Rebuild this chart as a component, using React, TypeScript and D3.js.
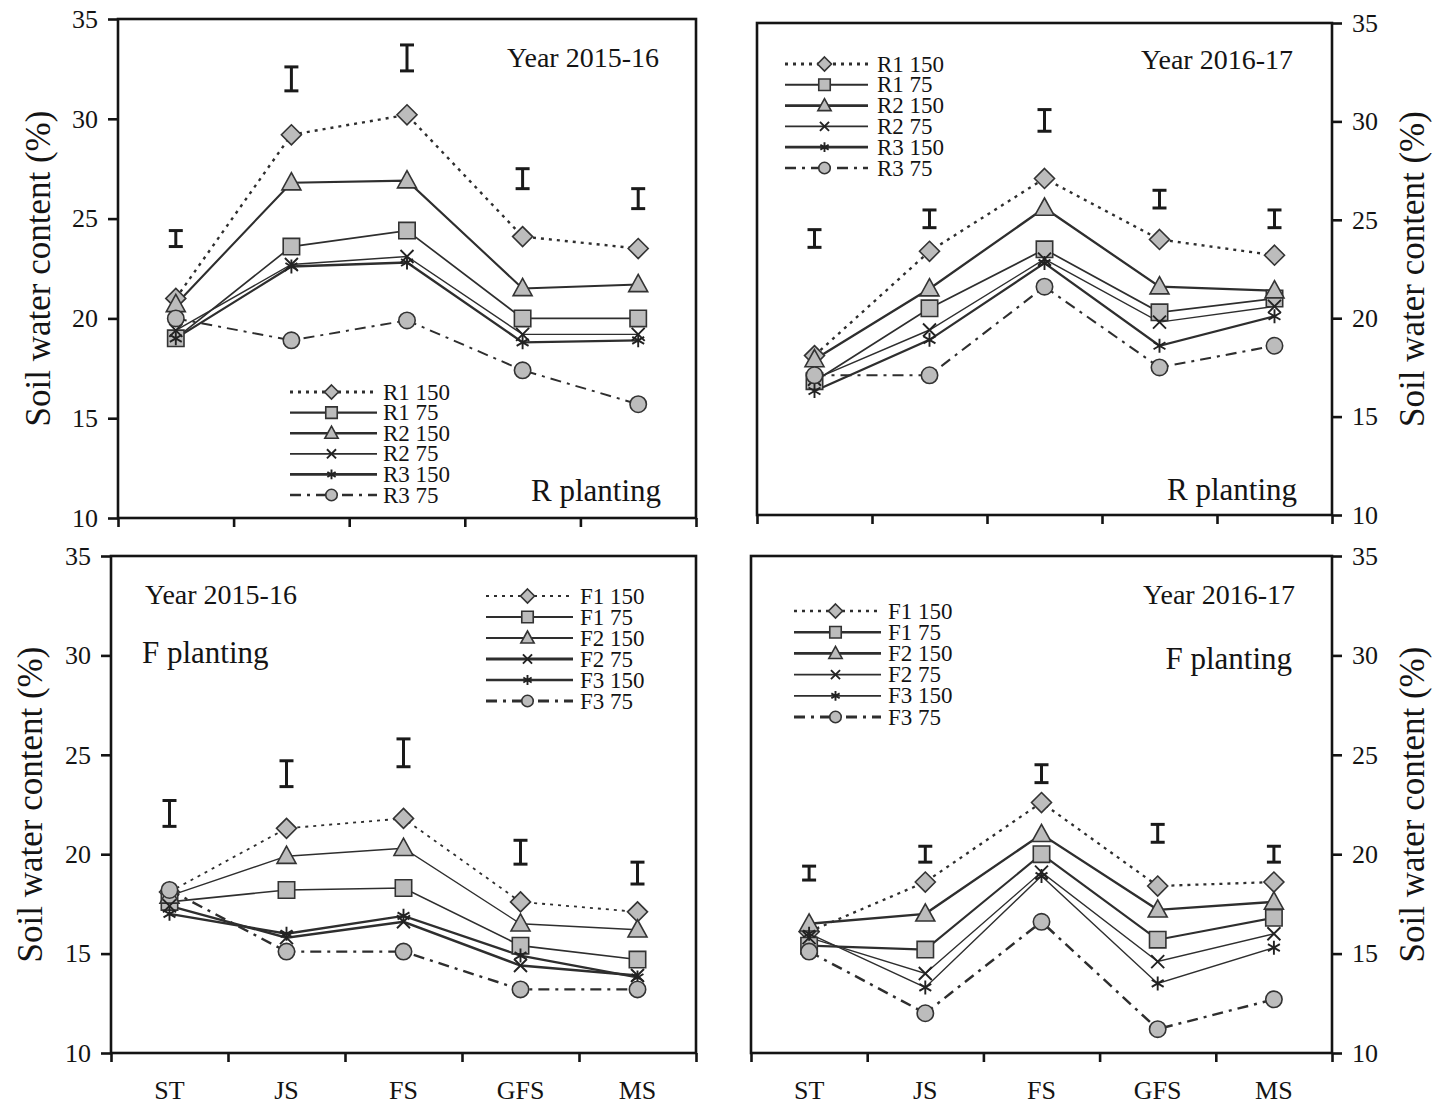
import React, { useEffect, useRef } from 'react';
import * as d3 from 'd3';

// growth stages on the x axis
const stages = ['ST', 'JS', 'FS', 'GFS', 'MS'];
const yTicks = [10, 15, 20, 25, 30, 35];

const rLabels = ['R1 150', 'R1 75', 'R2 150', 'R2 75', 'R3 150', 'R3 75'];
const fLabels = ['F1 150', 'F1 75', 'F2 150', 'F2 75', 'F3 150', 'F3 75'];
const shapes = ['diamond', 'square', 'triangle', 'x', 'asterisk', 'circle'];

// soil water content (%), one row per treatment, in stage order
const rValues1516 = [
  [21.0, 29.2, 30.2, 24.1, 23.5],
  [19.0, 23.6, 24.4, 20.0, 20.0],
  [20.7, 26.8, 26.9, 21.5, 21.7],
  [19.4, 22.7, 23.1, 19.2, 19.2],
  [19.0, 22.6, 22.8, 18.8, 18.9],
  [20.0, 18.9, 19.9, 17.4, 15.7],
];
const rValues1617 = [
  [18.1, 23.4, 27.1, 24.0, 23.2],
  [16.8, 20.5, 23.5, 20.3, 21.0],
  [17.9, 21.5, 25.6, 21.6, 21.4],
  [16.9, 19.4, 23.0, 19.8, 20.6],
  [16.3, 18.9, 22.8, 18.6, 20.1],
  [17.1, 17.1, 21.6, 17.5, 18.6],
];
const fValues1516 = [
  [18.1, 21.3, 21.8, 17.6, 17.1],
  [17.6, 18.2, 18.3, 15.4, 14.7],
  [17.9, 19.9, 20.3, 16.5, 16.2],
  [17.4, 15.8, 16.6, 14.4, 13.9],
  [17.0, 16.0, 16.9, 14.9, 13.8],
  [18.2, 15.1, 15.1, 13.2, 13.2],
];
const fValues1617 = [
  [16.1, 18.6, 22.6, 18.4, 18.6],
  [15.4, 15.2, 20.0, 15.7, 16.8],
  [16.5, 17.0, 21.0, 17.2, 17.6],
  [15.8, 14.0, 19.1, 14.6, 16.0],
  [16.0, 13.3, 18.9, 13.5, 15.3],
  [15.1, 12.0, 16.6, 11.2, 12.7],
];

// error bars: top and bottom per stage
const rErrTop1516 = [24.4, 32.6, 33.7, 27.5, 26.5];
const rErrBot1516 = [23.6, 31.4, 32.4, 26.5, 25.5];
const rErrTop1617 = [24.5, 25.5, 30.6, 26.5, 25.5];
const rErrBot1617 = [23.6, 24.6, 29.5, 25.6, 24.6];
const fErrTop1516 = [22.7, 24.7, 25.8, 20.7, 19.6];
const fErrBot1516 = [21.4, 23.4, 24.4, 19.5, 18.5];
const fErrTop1617 = [19.4, 20.4, 24.5, 21.5, 20.4];
const fErrBot1617 = [18.7, 19.6, 23.6, 20.6, 19.6];

const SERIF = "'Liberation Serif', 'Times New Roman', serif";
const INK = '#141414';

type Style = { width: number; dash: string | null };
type Panel = {
  left: number; right: number; top: number; bottom: number;
  side: 'left' | 'right';
  values: number[][]; labels: string[];
  errTop: number[]; errBot: number[];
  styles: Style[];
  legend: { x0: number; x1: number; tx: number; y0: number; dy: number };
  notes: { text: string; x: number; y: number; anchor: string; size: number }[];
  titleX: number;
  showX: boolean;
};

const dotted = '3,5';
const dashDot = '11,6,3,6';

const panels: Panel[] = [
  {
    left: 118, right: 696, top: 19, bottom: 518, side: 'left',
    values: rValues1516, labels: rLabels, errTop: rErrTop1516, errBot: rErrBot1516,
    styles: [
      { width: 2.4, dash: dotted }, { width: 1.7, dash: null }, { width: 2.1, dash: null },
      { width: 1.4, dash: null }, { width: 2.3, dash: null }, { width: 1.9, dash: dashDot },
    ],
    legend: { x0: 290, x1: 377, tx: 383, y0: 392, dy: 20.6 },
    notes: [
      { text: 'Year 2015-16', x: 659, y: 57, anchor: 'end', size: 28 },
      { text: 'R planting', x: 661, y: 490, anchor: 'end', size: 31 },
    ],
    titleX: 38, showX: false,
  },
  {
    left: 757, right: 1332, top: 23, bottom: 515, side: 'right',
    values: rValues1617, labels: rLabels, errTop: rErrTop1617, errBot: rErrBot1617,
    styles: [
      { width: 2.4, dash: dotted }, { width: 1.7, dash: null }, { width: 2.3, dash: null },
      { width: 1.4, dash: null }, { width: 2.3, dash: null }, { width: 2.1, dash: dashDot },
    ],
    legend: { x0: 785, x1: 868, tx: 877, y0: 64, dy: 20.8 },
    notes: [
      { text: 'Year 2016-17', x: 1293, y: 59, anchor: 'end', size: 28 },
      { text: 'R planting', x: 1297, y: 489, anchor: 'end', size: 31 },
    ],
    titleX: 1412, showX: false,
  },
  {
    left: 111, right: 696, top: 556, bottom: 1053, side: 'left',
    values: fValues1516, labels: fLabels, errTop: fErrTop1516, errBot: fErrBot1516,
    styles: [
      { width: 1.8, dash: dotted }, { width: 1.6, dash: null }, { width: 1.4, dash: null },
      { width: 2.4, dash: null }, { width: 2.3, dash: null }, { width: 2.4, dash: dashDot },
    ],
    legend: { x0: 486, x1: 573, tx: 580, y0: 596, dy: 21 },
    notes: [
      { text: 'Year 2015-16', x: 145, y: 594, anchor: 'start', size: 28 },
      { text: 'F planting', x: 142, y: 652, anchor: 'start', size: 31 },
    ],
    titleX: 30, showX: true,
  },
  {
    left: 751, right: 1332, top: 556, bottom: 1053, side: 'right',
    values: fValues1617, labels: fLabels, errTop: fErrTop1617, errBot: fErrBot1617,
    styles: [
      { width: 2.3, dash: dotted }, { width: 2.1, dash: null }, { width: 2.4, dash: null },
      { width: 1.4, dash: null }, { width: 1.4, dash: null }, { width: 2.5, dash: dashDot },
    ],
    legend: { x0: 794, x1: 881, tx: 888, y0: 611, dy: 21.2 },
    notes: [
      { text: 'Year 2016-17', x: 1295, y: 594, anchor: 'end', size: 28 },
      { text: 'F planting', x: 1292, y: 658, anchor: 'end', size: 31 },
    ],
    titleX: 1412, showX: true,
  },
];

function markerPath(shape: string, r: number) {
  const p = d3.path();
  if (shape === 'diamond') {
    p.moveTo(0, -r); p.lineTo(r, 0); p.lineTo(0, r); p.lineTo(-r, 0); p.closePath();
  } else if (shape === 'square') {
    const h = r * 0.82;
    p.rect(-h, -h, 2 * h, 2 * h);
  } else if (shape === 'triangle') {
    p.moveTo(0, -r); p.lineTo(r * 0.95, r * 0.72); p.lineTo(-r * 0.95, r * 0.72); p.closePath();
  } else if (shape === 'circle') {
    p.arc(0, 0, r * 0.82, 0, 2 * Math.PI);
  } else if (shape === 'x') {
    const h = r * 0.65;
    p.moveTo(-h, -h); p.lineTo(h, h); p.moveTo(h, -h); p.lineTo(-h, h);
  } else {
    const h = r * 0.7;
    p.moveTo(0, -h); p.lineTo(0, h);
    p.moveTo(-h * 0.85, -h * 0.5); p.lineTo(h * 0.85, h * 0.5);
    p.moveTo(h * 0.85, -h * 0.5); p.lineTo(-h * 0.85, h * 0.5);
  }
  return p.toString();
}

function drawMarker(g: any, shape: string, cx: number, cy: number, r: number) {
  const open = shape === 'x' || shape === 'asterisk';
  g.append('path')
    .attr('d', markerPath(shape, r))
    .attr('transform', `translate(${cx},${cy})`)
    .attr('fill', open ? 'none' : '#bcbcbc')
    .attr('stroke', open ? '#222' : '#333')
    .attr('stroke-width', open ? 1.9 : 1.6);
}

function drawPanel(svg: any, p: Panel) {
  const x = d3.scaleBand().domain(stages).range([p.left, p.right]);
  const xEdge = d3.scaleLinear().domain([0, stages.length]).range([p.left, p.right]);
  const y = d3.scaleLinear().domain([10, 35]).range([p.bottom, p.top]);
  const cx = (s: string) => (x(s) as number) + x.bandwidth() / 2;
  const g = svg.append('g');

  // frame
  g.append('rect')
    .attr('x', p.left).attr('y', p.top)
    .attr('width', p.right - p.left).attr('height', p.bottom - p.top)
    .attr('fill', 'none').attr('stroke', INK).attr('stroke-width', 2.6);

  // y axis
  const yAxis = (p.side === 'left' ? d3.axisLeft(y) : d3.axisRight(y))
    .tickValues(yTicks).tickSize(10).tickPadding(10).tickSizeOuter(0);
  const ya = g.append('g')
    .attr('transform', `translate(${p.side === 'left' ? p.left : p.right},0)`)
    .call(yAxis);
  ya.select('.domain').remove();
  ya.selectAll('line').attr('stroke', INK).attr('stroke-width', 2.6);
  ya.selectAll('text').attr('font-family', SERIF).attr('font-size', 26).attr('fill', INK);

  // x axis: ticks on the stage boundaries
  const xa = g.append('g')
    .attr('transform', `translate(0,${p.bottom})`)
    .call(d3.axisBottom(xEdge).tickValues(d3.range(stages.length + 1)).tickSize(9).tickFormat(() => '').tickSizeOuter(0));
  xa.select('.domain').remove();
  xa.selectAll('line').attr('stroke', INK).attr('stroke-width', 2.6);

  if (p.showX) {
    g.selectAll('.xlab').data(stages).enter().append('text')
      .attr('x', (d: string) => cx(d)).attr('y', 1099)
      .attr('text-anchor', 'middle')
      .attr('font-family', SERIF).attr('font-size', 26).attr('fill', INK)
      .text((d: string) => d);
  }

  // axis title
  g.append('text')
    .attr('transform', `translate(${p.titleX},${(p.top + p.bottom) / 2}) rotate(-90)`)
    .attr('text-anchor', 'middle').attr('dominant-baseline', 'central')
    .attr('font-family', SERIF).attr('font-size', 35).attr('fill', INK)
    .text('Soil water content (%)');

  // error bars
  stages.forEach((s, i) => {
    const xc = cx(s);
    const t = y(p.errTop[i]);
    const b = y(p.errBot[i]);
    const eb = g.append('g').attr('stroke', '#1a1a1a').attr('stroke-width', 3);
    eb.append('line').attr('x1', xc).attr('x2', xc).attr('y1', t).attr('y2', b);
    eb.append('line').attr('x1', xc - 7).attr('x2', xc + 7).attr('y1', t).attr('y2', t);
    eb.append('line').attr('x1', xc - 7).attr('x2', xc + 7).attr('y1', b).attr('y2', b);
  });

  // series lines
  const line = d3.line<number>().x((_, i) => cx(stages[i])).y(d => y(d));
  p.values.forEach((vals, k) => {
    const st = p.styles[k];
    g.append('path')
      .attr('d', line(vals))
      .attr('fill', 'none').attr('stroke', '#2e2e2e')
      .attr('stroke-width', st.width)
      .attr('stroke-dasharray', st.dash);
  });
  // markers on top
  p.values.forEach((vals, k) => {
    vals.forEach((v, i) => drawMarker(g, shapes[k], cx(stages[i]), y(v), 10));
  });

  // legend
  const L = p.legend;
  p.labels.forEach((lab, k) => {
    const ly = L.y0 + k * L.dy;
    const st = p.styles[k];
    g.append('line')
      .attr('x1', L.x0).attr('x2', L.x1).attr('y1', ly).attr('y2', ly)
      .attr('stroke', '#2e2e2e').attr('stroke-width', st.width + 0.4)
      .attr('stroke-dasharray', st.dash);
    drawMarker(g, shapes[k], (L.x0 + L.x1) / 2 - 2, ly, 7);
    g.append('text')
      .attr('x', L.tx).attr('y', ly)
      .attr('dominant-baseline', 'central')
      .attr('font-family', SERIF).attr('font-size', 23).attr('fill', INK)
      .text(lab);
  });

  // notes
  p.notes.forEach(n => {
    g.append('text')
      .attr('x', n.x).attr('y', n.y)
      .attr('text-anchor', n.anchor).attr('dominant-baseline', 'central')
      .attr('font-family', SERIF).attr('font-size', n.size).attr('fill', INK)
      .text(n.text);
  });
}

export default function App() {
  const ref = useRef<SVGSVGElement>(null);

  useEffect(() => {
    const svg = d3.select(ref.current);
    svg.selectAll('*').remove();
    panels.forEach(p => drawPanel(svg, p));
  }, []);

  return (
    <svg
      ref={ref}
      width={1438}
      height={1108}
      style={{ position: 'absolute', left: 0, top: 0, background: '#fff' }}
    />
  );
}
